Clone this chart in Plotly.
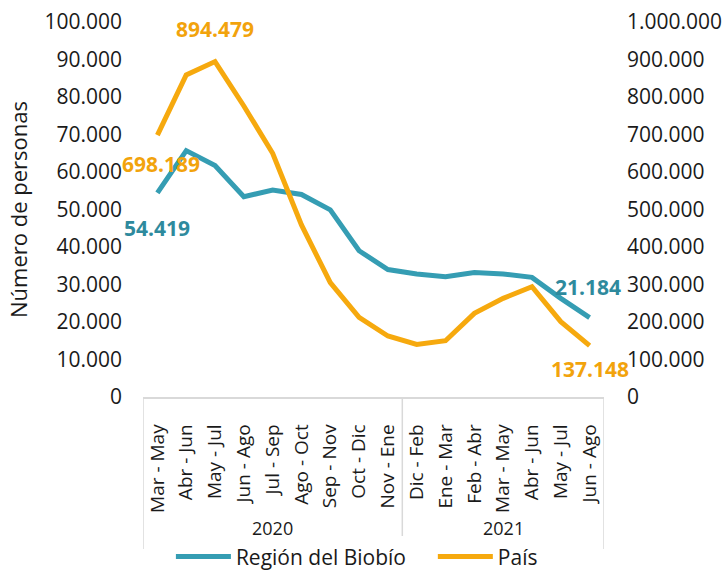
import plotly.graph_objects as go

periods = ["Mar - May", "Abr - Jun", "May - Jul", "Jun - Ago", "Jul - Sep", "Ago - Oct",
           "Sep - Nov", "Oct - Dic", "Nov - Ene",
           "Dic - Feb", "Ene - Mar", "Feb - Abr", "Mar - May", "Abr - Jun", "May - Jul", "Jun - Ago"]
years = ["2020", "2021"]
year_counts = [9, 7]
series_names = ["Región del Biobío", "País"]
biobio = [54419, 65700, 61700, 53400, 55200, 54000, 49900, 39000, 34000,
          32800, 32100, 33200, 32800, 31900, 26300, 21184]
pais = [698189, 858700, 894479, 776000, 650000, 458700, 304800, 212500, 162700,
        140000, 150000, 223000, 263000, 294000, 201000, 137148]

TEAL = "#359DB3"
TEAL_LBL = "#2E8A9D"
ORANGE = "#F6A90E"
ORANGE_LBL = "#F2A30C"
FONT = "Open Sans"
TXT = "#1a1a1a"

xs = list(range(len(periods)))

fig = go.Figure()
fig.add_trace(go.Scatter(x=xs, y=biobio, mode="lines",
                         name=series_names[0] + "\u00a0" * 4,
                         line=dict(color=TEAL, width=5), yaxis="y"))
fig.add_trace(go.Scatter(x=xs, y=pais, mode="lines", name=series_names[1],
                         line=dict(color=ORANGE, width=5), yaxis="y2"))

# data labels
labels = [
    (0, biobio[0], "y", TEAL_LBL, -35, 0),
    (15, biobio[15], "y", TEAL_LBL, 31, -2),
    (0, pais[0], "y2", ORANGE_LBL, -29, 4),
    (2, pais[2], "y2", ORANGE_LBL, 33, 0),
    (15, pais[15], "y2", ORANGE_LBL, -23, 0),
]
for i, v, yr, col, ysh, xsh in labels:
    fig.add_annotation(x=i, y=v, xref="x", yref=yr, text=f"{v:,}".replace(",", "."),
                       showarrow=False, yshift=ysh, xshift=xsh,
                       font=dict(family=FONT, size=21, color=col, weight="bold"))

# year labels
start = -0.5
for yname, cnt in zip(years, year_counts):
    fig.add_annotation(x=start + cnt / 2, y=-0.35, xref="x", yref="paper", text=yname,
                       showarrow=False, yanchor="middle", xanchor="center",
                       font=dict(family=FONT, size=18, color=TXT))
    start += cnt

# category box lines
bounds = [-0.5, -0.5 + year_counts[0], -0.5 + sum(year_counts)]
for b in bounds:
    fig.add_shape(type="line", x0=b, x1=b, y0=0, y1=-0.405, xref="x", yref="paper",
                  line=dict(color="#D9D9D9", width=1.5))

fig.update_layout(
    width=724, height=570,
    margin=dict(l=143, r=120, t=22, b=173, autoexpand=False),
    paper_bgcolor="white", plot_bgcolor="white",
    separators=",.",
    font=dict(family=FONT, size=18, color=TXT),
    showlegend=True,
    legend=dict(orientation="h", x=0.464, xanchor="center", y=0.023, yanchor="middle",
                yref="container",
                font=dict(family=FONT, size=21, color=TXT), itemwidth=55,
                tracegroupgap=0),
    xaxis=dict(range=[-0.5, 15.5], tickvals=xs, ticktext=periods, tickangle=-90,
               automargin=False, ticklabelstandoff=18,
               showgrid=False, zeroline=False, showline=True, linecolor="#D9D9D9",
               linewidth=1.5, ticks="", tickfont=dict(family=FONT, size=19, color=TXT)),
    yaxis=dict(range=[0, 100000], tickvals=list(range(0, 100001, 10000)), tickformat=",d",
               automargin=False,
               showgrid=False, zeroline=False, showline=False, ticks="",
               ticklabelstandoff=20, tickfont=dict(family=FONT, size=21, color=TXT),
               title=dict(text="Número de personas", standoff=10,
                          font=dict(family=FONT, size=22, color=TXT))),
    yaxis2=dict(range=[0, 1000000], tickvals=list(range(0, 1000001, 100000)), tickformat=",d",
                automargin=False,
                overlaying="y", side="right", showgrid=False, zeroline=False, showline=False,
                ticks="", ticklabelstandoff=22, tickfont=dict(family=FONT, size=21, color=TXT)),
)

fig.write_html("out.html", config={"displayModeBar": False},
               post_script="document.body.style.margin='0px';document.body.style.overflow='hidden';")
